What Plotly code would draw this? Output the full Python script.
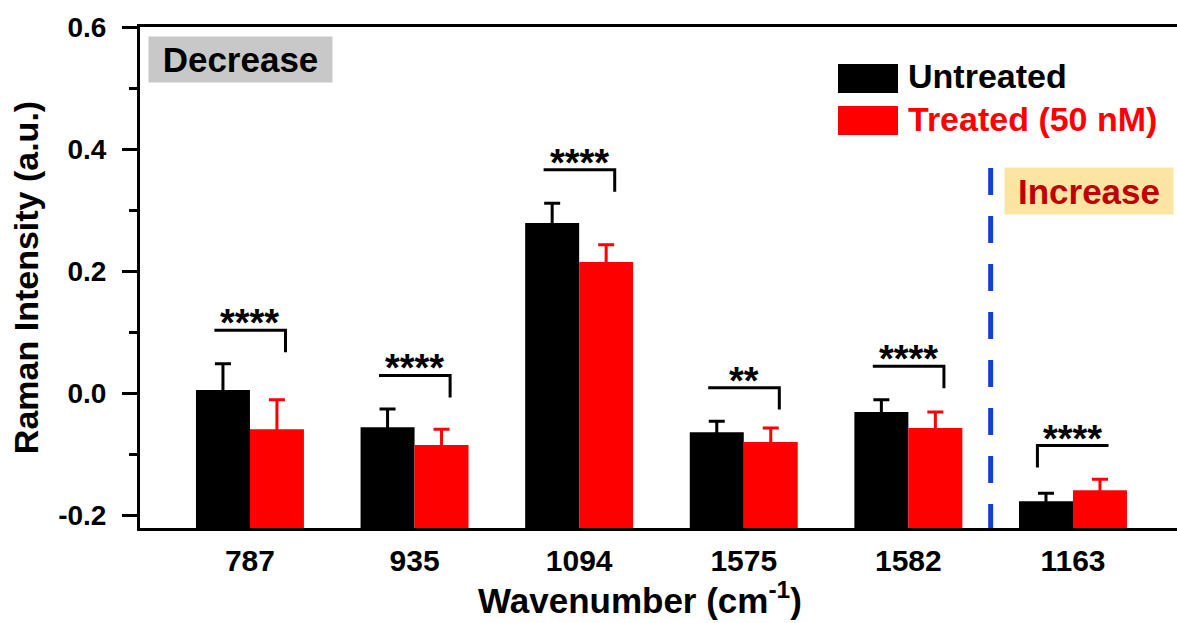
import plotly.graph_objects as go

# ---- data ----
wavenumbers = ["787", "935", "1094", "1575", "1582", "1163"]
untreated = [0.005, -0.056, 0.279, -0.064, -0.031, -0.177]
untreated_err = [0.043, 0.030, 0.032, 0.018, 0.020, 0.013]
treated = [-0.059, -0.085, 0.215, -0.080, -0.057, -0.159]
treated_err = [0.048, 0.026, 0.028, 0.023, 0.026, 0.018]
significance = ["****", "****", "****", "**", "****", "****"]
y_ticks = [-0.2, 0.0, 0.2, 0.4, 0.6]
y_tick_labels = ["-0.2", "0.0", "0.2", "0.4", "0.6"]
y_minor_ticks = [-0.1, 0.1, 0.3, 0.5]

Y_MIN, Y_MAX = -0.221, 0.6
X_MIN, X_MAX = -0.668, 5.632
BAR_W = 0.328
CAP_HIDE = 0.012  # lower cap hidden inside the bar
FONT = "Liberation Sans"
BLACK = "#000000"
RED = "#ff0000"

pos = list(range(len(wavenumbers)))

fig = go.Figure()
fig.add_trace(go.Bar(
    name="Untreated", x=pos, y=[v - Y_MIN for v in untreated], base=Y_MIN,
    width=BAR_W, offset=-BAR_W, marker=dict(color=BLACK, line=dict(width=0)),
    error_y=dict(type="data", symmetric=False, array=untreated_err,
                 arrayminus=[CAP_HIDE] * len(pos), color=BLACK, thickness=3, width=8),
    showlegend=False))
fig.add_trace(go.Bar(
    name="Treated (50 nM)", x=pos, y=[v - Y_MIN for v in treated], base=Y_MIN,
    width=BAR_W, offset=0, marker=dict(color=RED, line=dict(width=0)),
    error_y=dict(type="data", symmetric=False, array=treated_err,
                 arrayminus=[CAP_HIDE] * len(pos), color=RED, thickness=3, width=8),
    showlegend=False))

shapes = []
annotations = []

# significance brackets
for i in pos:
    top = max(untreated[i] + untreated_err[i], treated[i] + treated_err[i])
    yb = top + 0.055
    drop = 0.036
    xl, xr = i - 0.216, i + 0.216
    if treated[i] < untreated[i]:
        path = f"M {xl},{yb} L {xr},{yb} L {xr},{yb - drop}"
    else:
        path = f"M {xr},{yb} L {xl},{yb} L {xl},{yb - drop}"
    shapes.append(dict(type="path", xref="x", yref="y", path=path,
                       line=dict(color=BLACK, width=3)))
    annotations.append(dict(x=i, y=yb, xref="x", yref="y", text=significance[i],
                            showarrow=False, yanchor="bottom", yshift=-16,
                            font=dict(family=FONT, size=38, color=BLACK, weight="bold")))

# dashed separator
shapes.append(dict(type="line", xref="x", yref="y", x0=4.5, x1=4.5, y0=0.369, y1=Y_MIN,
                   line=dict(color="#1440d0", width=5, dash="27px,21px")))

# Decrease / Increase labels
annotations.append(dict(x=-0.06, y=0.547, xref="x", yref="y", text="Decrease",
                        showarrow=False, width=183, height=45, borderpad=0,
                        bgcolor="#c8c8c8",
                        font=dict(family=FONT, size=35, color=BLACK, weight="bold")))
annotations.append(dict(x=5.097, y=0.331, xref="x", yref="y", text="Increase",
                        showarrow=False, width=168, height=46, borderpad=0,
                        bgcolor="#fce5a3",
                        font=dict(family=FONT, size=35, color="#c00000", weight="bold")))

# manual legend
PL, PW, PT, PH = 140, 1037, 27, 501
def px(x):
    return (x - PL) / PW
def py(y):
    return (PT + PH - y) / PH

shapes.append(dict(type="rect", xref="paper", yref="paper", x0=px(838), x1=px(898),
                   y0=py(93), y1=py(64), fillcolor=BLACK, line=dict(width=0)))
shapes.append(dict(type="rect", xref="paper", yref="paper", x0=px(838), x1=px(898),
                   y0=py(135), y1=py(106), fillcolor=RED, line=dict(width=0)))
annotations.append(dict(x=px(906), y=py(76), xref="paper", yref="paper", text="Untreated",
                        showarrow=False, xanchor="left", yanchor="middle",
                        font=dict(family=FONT, size=34, color=BLACK, weight="bold")))
annotations.append(dict(x=px(906), y=py(119), xref="paper", yref="paper", text="Treated (50 nM)",
                        showarrow=False, xanchor="left", yanchor="middle",
                        font=dict(family=FONT, size=34, color=RED, weight="bold")))

# x-axis title (centered as in the reference)
annotations.append(dict(x=px(640), y=py(622), xref="paper", yref="paper",
                        text="Wavenumber (cm<sup>-1</sup>)", showarrow=False,
                        xanchor="center", yanchor="bottom",
                        font=dict(family=FONT, size=35, color=BLACK, weight="bold")))

fig.update_layout(
    width=1177, height=623,
    margin=dict(l=PL, r=0, t=PT, b=623 - PT - PH, pad=0),
    plot_bgcolor="white", paper_bgcolor="white",
    barmode="overlay",
    shapes=shapes, annotations=annotations,
    font=dict(family=FONT, color=BLACK),
    xaxis=dict(
        range=[X_MIN, X_MAX], tickmode="array", tickvals=pos, ticktext=wavenumbers,
        ticks="", showgrid=False, zeroline=False,
        showline=True, linecolor=BLACK, linewidth=3, mirror=True,
        tickfont=dict(family=FONT, size=30, color=BLACK, weight="bold"),
        ticklabelstandoff=4,
    ),
    yaxis=dict(
        range=[Y_MIN, Y_MAX], tickmode="array", tickvals=y_ticks, ticktext=y_tick_labels,
        ticks="outside", ticklen=15, tickwidth=3, tickcolor=BLACK,
        minor=dict(tickmode="array", tickvals=y_minor_ticks, ticks="outside",
                   ticklen=8, tickwidth=3, tickcolor=BLACK, showgrid=False),
        showgrid=False, zeroline=False,
        showline=True, linecolor=BLACK, linewidth=3,
        tickfont=dict(family=FONT, size=28, color=BLACK, weight="bold"),
        ticklabelstandoff=10,
        title=dict(text="Raman Intensity (a.u.)", standoff=10,
                   font=dict(family=FONT, size=34, color=BLACK, weight="bold")),
    ),
)

fig.write_html("out.html")
